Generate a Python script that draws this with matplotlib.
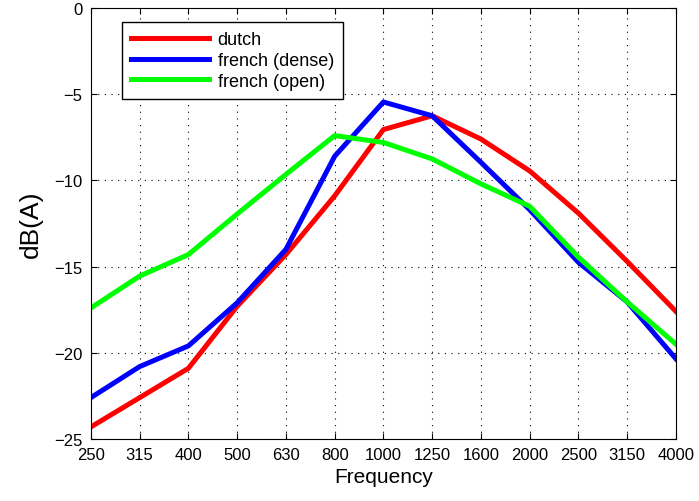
import matplotlib.pyplot as plt
import numpy as np

plt.rcParams['font.family'] = ['Liberation Sans', 'DejaVu Sans']

freqs = ['250', '315', '400', '500', '630', '800', '1000', '1250',
         '1600', '2000', '2500', '3150', '4000']
dutch = [-24.3, -22.6, -20.9, -17.3, -14.3, -10.9, -7.05, -6.25,
         -7.6, -9.45, -11.9, -14.7, -17.6]
french_dense = [-22.6, -20.8, -19.6, -17.1, -14.0, -8.6, -5.45, -6.25,
                -8.95, -11.7, -14.75, -17.05, -20.35]
french_open = [-17.4, -15.55, -14.3, -11.95, -9.65, -7.4, -7.8, -8.75,
               -10.2, -11.5, -14.45, -17.05, -19.5]

x = np.arange(len(freqs))

fig = plt.figure(figsize=(6.99, 5.02), dpi=100)
ax = fig.add_axes([0.130, 0.1235, 0.837, 0.8585])

ax.plot(x, dutch, color='#ff0000', lw=3.6, label='dutch')
ax.plot(x, french_dense, color='#0000ff', lw=3.6, label='french (dense)')
ax.plot(x, french_open, color='#00ff00', lw=3.6, label='french (open)')

ax.set_xlim(0, len(freqs) - 1)
ax.set_ylim(-25, 0)
ax.set_xticks(x)
ax.set_xticklabels(freqs)
ax.set_yticks([-25, -20, -15, -10, -5, 0])
ax.set_yticklabels(['\u221225', '\u221220', '\u221215', '\u221210', '\u22125', '0'])
ax.tick_params(direction='in', top=True, right=True, labelsize=12, length=4, pad=6)
ax.grid(True, linestyle=(0, (1, 5)), color='black', lw=0.8)
for s in ax.spines.values():
    s.set_linewidth(0.8)

ax.set_xlabel('Frequency', fontsize=15, labelpad=3)
ax.set_ylabel('dB(A)', fontsize=19, labelpad=8)

leg = ax.legend(loc='upper left', bbox_to_anchor=(0.053, 0.967), fontsize=13,
                fancybox=False, framealpha=1, edgecolor='black',
                handlelength=4.3, borderaxespad=0, handletextpad=0.5,
                borderpad=0.5, labelspacing=0.2)
leg.get_frame().set_linewidth(1.0)

fig.savefig('out.png', dpi=100)
